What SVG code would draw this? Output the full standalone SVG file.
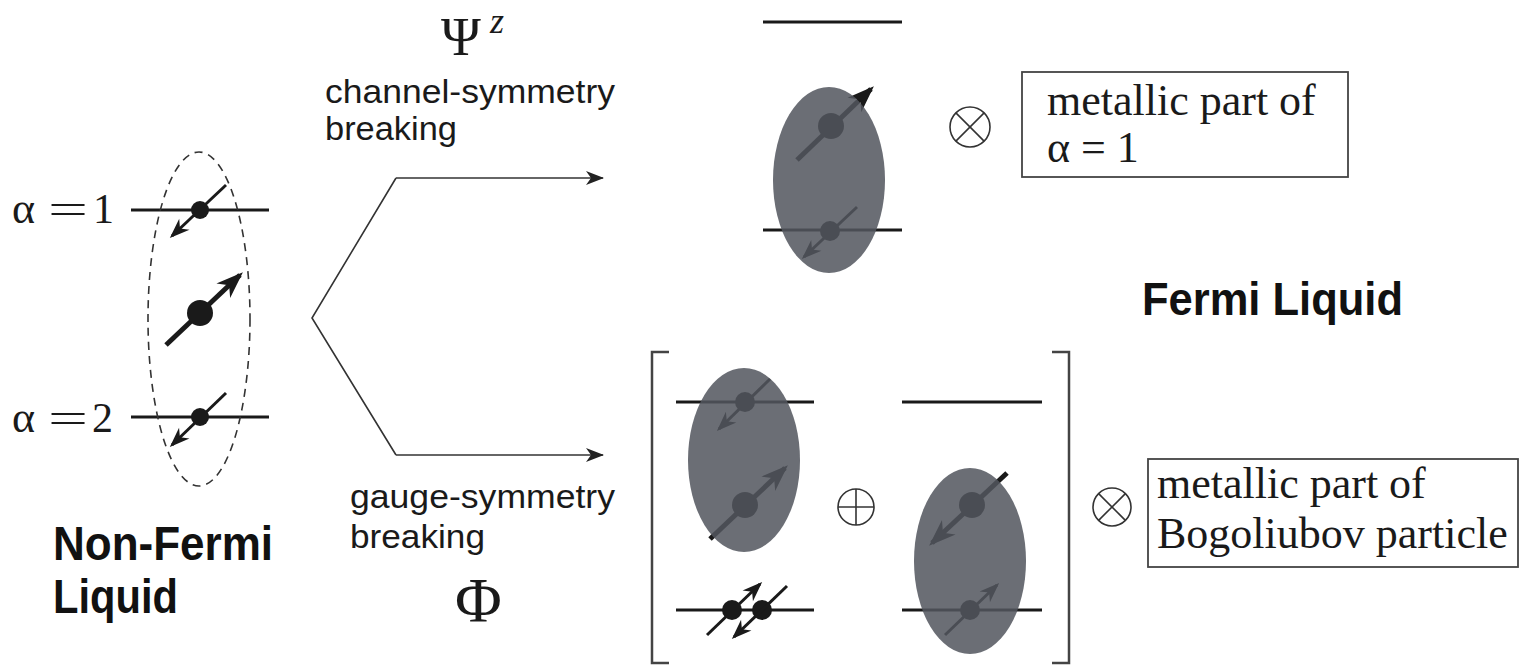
<svg xmlns="http://www.w3.org/2000/svg" width="1522" height="665" viewBox="0 0 1522 665">
<defs>
<style>
.lvl{stroke:#1a1a1a;stroke-width:3.2;fill:none}
.sp{stroke:#1a1a1a;stroke-width:3;fill:none;marker-end:url(#ah)}
.spb{stroke:#1a1a1a;stroke-width:5;fill:none;marker-end:url(#ahb)}
.dot{fill:#1a1a1a}
.blob{fill:#53565e;fill-opacity:0.86}
.serif{font-family:"Liberation Serif","Times New Roman",serif;fill:#1a1a1a}
.sans{font-family:"Liberation Sans",Arial,sans-serif;fill:#1a1a1a}
.bold{font-family:"Liberation Sans",Arial,sans-serif;font-weight:bold;fill:#111}
.conn{stroke:#333;stroke-width:1.6;fill:none}
.op{stroke:#333;stroke-width:1.6;fill:none}
.box{stroke:#444;stroke-width:1.8;fill:#fff}
.brk{stroke:#444;stroke-width:2.5;fill:none}
</style>
<marker id="ah" viewBox="-20 -9 24 18" markerUnits="userSpaceOnUse" markerWidth="24" markerHeight="18" refX="0" refY="0" orient="auto">
<path d="M3,0 L-17,-7.5 L-11,0 L-17,7.5 Z" fill="#1a1a1a"/>
</marker>
<marker id="ahb" viewBox="-26 -12 32 24" markerUnits="userSpaceOnUse" markerWidth="32" markerHeight="24" refX="0" refY="0" orient="auto">
<path d="M4,0 L-23,-10 L-15,0 L-23,10 Z" fill="#1a1a1a"/>
</marker>
<marker id="ca" viewBox="-18 -8 22 16" markerUnits="userSpaceOnUse" markerWidth="22" markerHeight="16" refX="0" refY="0" orient="auto">
<path d="M1,0 L-17,-7 L-12,0 L-17,7 Z" fill="#222"/>
</marker>
</defs>

<g id="non-fermi-liquid">
<text class="serif" font-size="44" x="12" y="223">α</text>
<text class="serif" font-size="42" x="48" y="223" textLength="40" lengthAdjust="spacingAndGlyphs">=</text>
<text class="serif" font-size="42" x="93" y="223">1</text>
<text class="serif" font-size="44" x="12" y="432">α</text>
<text class="serif" font-size="42" x="48" y="432" textLength="40" lengthAdjust="spacingAndGlyphs">=</text>
<text class="serif" font-size="42" x="92" y="432">2</text>
<line class="lvl" x1="131" y1="210" x2="269" y2="210"/>
<line class="lvl" x1="131" y1="417" x2="269" y2="417"/>
<circle class="dot" cx="200" cy="210" r="9"/>
<line class="sp" x1="226" y1="185" x2="172" y2="236"/>
<circle class="dot" cx="200" cy="313" r="13"/>
<line class="spb" x1="166" y1="345" x2="240" y2="275"/>
<circle class="dot" cx="200" cy="417" r="9"/>
<line class="sp" x1="226" y1="393" x2="172" y2="445"/>
<ellipse cx="199" cy="319" rx="51" ry="167" fill="none" stroke="#333" stroke-width="1.6" stroke-dasharray="8 6"/>
<text class="bold" font-size="48" x="53" y="560" textLength="220" lengthAdjust="spacingAndGlyphs">Non-Fermi</text>
<text class="bold" font-size="48" x="53" y="613" textLength="125" lengthAdjust="spacingAndGlyphs">Liquid</text>
</g>

<g id="connectors">
<polyline class="conn" points="396,178 312,318 396,455"/>
<line class="conn" x1="396" y1="178" x2="603" y2="178" marker-end="url(#ca)"/>
<line class="conn" x1="396" y1="455" x2="603" y2="455" marker-end="url(#ca)"/>
</g>

<g id="label-channel">
<text class="serif" font-size="54" x="441" y="55">Ψ</text>
<text class="serif" font-size="36" font-style="italic" x="490" y="33">z</text>
<text class="sans" font-size="33" x="325" y="103" textLength="290" lengthAdjust="spacingAndGlyphs">channel-symmetry</text>
<text class="sans" font-size="33" x="325" y="140" textLength="132" lengthAdjust="spacingAndGlyphs">breaking</text>
</g>

<g id="label-gauge">
<text class="sans" font-size="33" x="350" y="508" textLength="265" lengthAdjust="spacingAndGlyphs">gauge-symmetry</text>
<text class="sans" font-size="33" x="350" y="548" textLength="135" lengthAdjust="spacingAndGlyphs">breaking</text>
<text class="serif" font-size="64" x="455" y="622">Φ</text>
</g>

<g id="fermi-liquid-channel">
<line class="lvl" x1="763" y1="22" x2="902" y2="22"/>
<line class="lvl" x1="763" y1="230" x2="902" y2="230"/>
<circle class="dot" cx="831" cy="126" r="13"/>
<line class="spb" x1="797" y1="160" x2="871" y2="89"/>
<circle class="dot" cx="830" cy="231" r="10"/>
<line class="sp" x1="857" y1="207" x2="804" y2="257"/>
<ellipse class="blob" cx="829" cy="180" rx="56" ry="93"/>
</g>

<g id="otimes-top">
<circle class="op" cx="970" cy="127" r="20"/>
<line class="op" x1="955.9" y1="112.9" x2="984.1" y2="141.1"/>
<line class="op" x1="984.1" y1="112.9" x2="955.9" y2="141.1"/>
</g>

<g id="box-alpha1">
<rect class="box" x="1022" y="72" width="326" height="105"/>
<text class="serif" font-size="44" x="1047" y="115">metallic part of</text>
<text class="serif" font-size="44" x="1047" y="162">α = 1</text>
</g>

<g id="fermi-liquid-label">
<text class="bold" font-size="47" x="1142" y="315" textLength="261" lengthAdjust="spacingAndGlyphs">Fermi Liquid</text>
</g>

<g id="fermi-liquid-gauge">
<path class="brk" d="M669,352 H652 V663 H669"/>
<path class="brk" d="M1052,352 H1069 V663 H1052"/>
<line class="lvl" x1="676" y1="402" x2="814" y2="402"/>
<circle class="dot" cx="745" cy="402" r="10"/>
<line class="sp" x1="770" y1="379" x2="719" y2="429"/>
<circle class="dot" cx="745" cy="505" r="13"/>
<line class="spb" x1="710" y1="539" x2="785" y2="468"/>
<ellipse class="blob" cx="744" cy="460" rx="56" ry="92"/>
<line class="lvl" x1="676" y1="610" x2="814" y2="610"/>
<circle class="dot" cx="732" cy="610" r="10"/>
<circle class="dot" cx="762" cy="610" r="10"/>
<line class="sp" x1="707" y1="635" x2="760" y2="584"/>
<line class="sp" x1="787" y1="586" x2="734" y2="637"/>
<circle class="op" cx="856" cy="507" r="18"/>
<line class="op" x1="838" y1="507" x2="874" y2="507"/>
<line class="op" x1="856" y1="489" x2="856" y2="525"/>
<line class="lvl" x1="902" y1="402" x2="1042" y2="402"/>
<circle class="dot" cx="972" cy="505" r="13"/>
<line class="spb" x1="1007" y1="473" x2="932" y2="543"/>
<line class="lvl" x1="902" y1="610" x2="1042" y2="610"/>
<circle class="dot" cx="970" cy="610" r="10"/>
<line class="sp" x1="945" y1="635" x2="997" y2="585"/>
<ellipse class="blob" cx="970" cy="561" rx="56" ry="93"/>
</g>

<g id="otimes-bottom">
<circle class="op" cx="1112" cy="507" r="19"/>
<line class="op" x1="1098.6" y1="493.6" x2="1125.4" y2="520.4"/>
<line class="op" x1="1125.4" y1="493.6" x2="1098.6" y2="520.4"/>
</g>

<g id="box-bogoliubov">
<rect class="box" x="1148" y="459" width="370" height="108"/>
<text class="serif" font-size="44" x="1157" y="498">metallic part of</text>
<text class="serif" font-size="44" x="1157" y="548">Bogoliubov particle</text>
</g>
</svg>
